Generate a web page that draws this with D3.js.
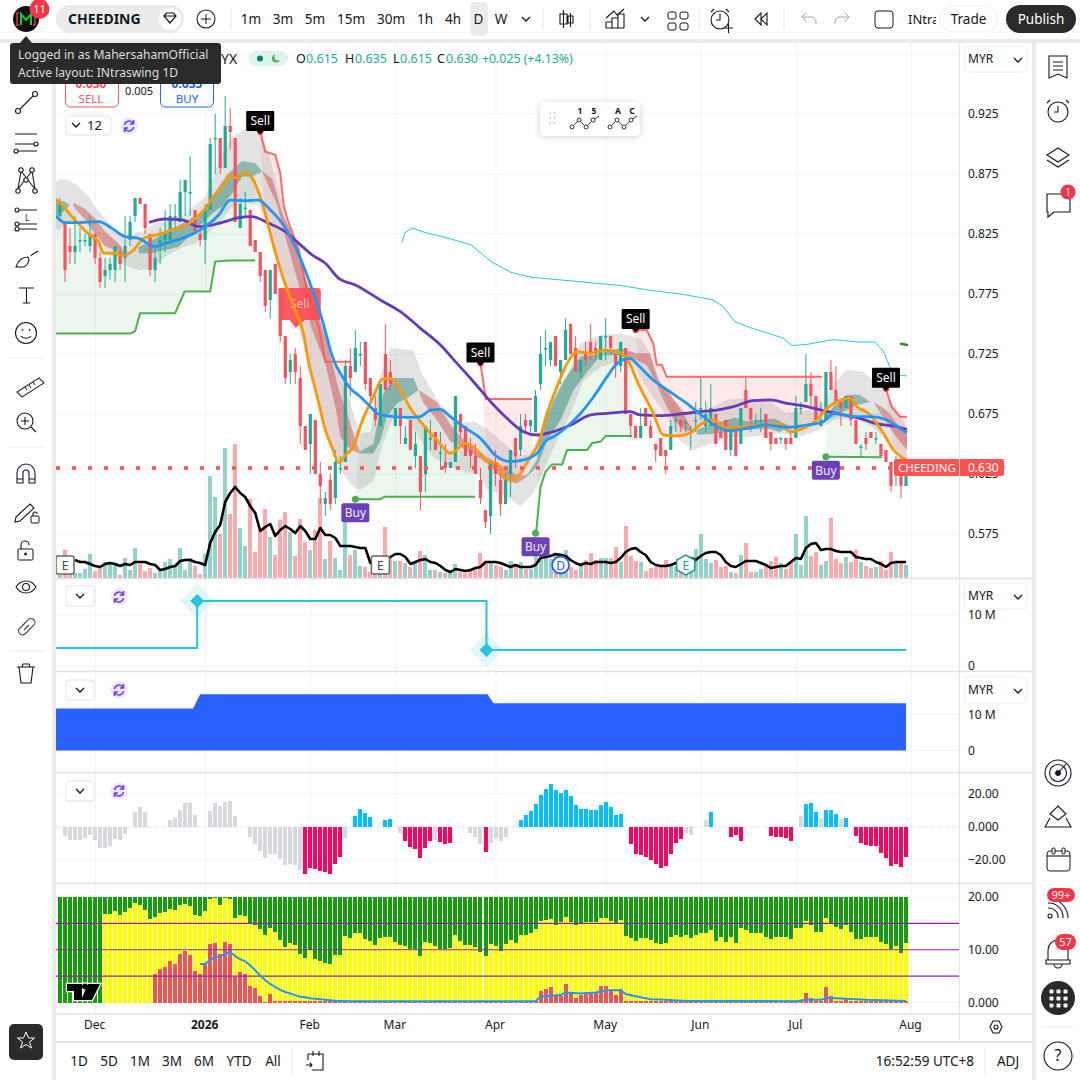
<!DOCTYPE html>
<html lang="en">
<head>
<meta charset="UTF-8">
<title>CHEEDING 1D</title>
<style>
  html, body { margin: 0; padding: 0; background: #fff; }
  svg { display: block; font-family: "Noto Sans", "Open Sans", sans-serif; }
  .axis text { font-family: "Noto Sans", sans-serif; font-size: 12px; fill: #131722; }
  .axis path, .axis line { display: none; }
</style>
</head>
<body>
<div id="chart"></div>
<script src="https://cdn.jsdelivr.net/npm/d3@7"></script>
<script>
// candles, one per trading day
const opens = [.84,.835,.815,.81,.82,.82,.815,.825,.805,.79, .795,.795,.81,.805,.82,.84,.855,.85,.825,.795,
  .815,.82,.82,.84,.835,.86,.86,.845,.825,.82, .845,.905,.905,.88,.915,.905,.83,.847,.845,.82,
  .81,.795,.77,.80,.78,.74,.71,.725,.705,.665, .65,.67,.625,.60,.62,.605,.63,.635,.715,.71,
  .725,.735,.705,.68,.665,.725,.71,.665,.68,.65, .67,.64,.64,.625,.655,.66,.643,.635,.63,.635,
  .675,.665,.645,.64,.62,.595,.59,.635,.62,.60, .625,.655,.645,.67,.665,.66,.70,.73,.72,.74,
  .71,.72,.75,.73,.71,.725,.735,.73,.72,.74, .74,.725,.715,.73,.675,.665,.655,.68,.665,.65,
  .655,.645,.645,.67,.67,.668,.66,.67,.68,.665, .665,.675,.66,.67,.645,.665,.65,.695,.68,.67,
  .67,.675,.66,.655,.655,.655,.655,.655,.68,.685, .70,.69,.665,.67,.71,.695,.685,.68,.69,.67,
  .648,.655,.66,.655,.65,.645,.635,.625,.635,.615];
const highs = [.855,.835,.83,.84,.83,.825,.84,.825,.81,.805, .805,.815,.815,.84,.84,.855,.855,.85,.825,.815,
  .83,.845,.85,.85,.87,.87,.89,.845,.83,.85, .905,.925,.905,.94,.93,.905,.855,.86,.845,.82,
  .81,.795,.795,.80,.78,.74,.725,.73,.715,.665, .675,.67,.635,.61,.625,.645,.64,.72,.73,.745,
  .735,.735,.705,.69,.70,.75,.72,.68,.68,.665, .67,.66,.64,.665,.67,.66,.66,.65,.635,.69,
  .675,.665,.655,.65,.63,.595,.635,.645,.63,.625, .645,.655,.675,.675,.67,.695,.74,.745,.735,.74,
  .72,.755,.75,.74,.72,.735,.75,.735,.74,.755, .74,.725,.735,.73,.675,.665,.68,.68,.67,.65,
  .655,.645,.67,.675,.67,.67,.665,.685,.705,.685, .70,.675,.665,.67,.66,.665,.68,.705,.68,.675,
  .68,.675,.66,.655,.656,.655,.66,.69,.685,.725, .71,.69,.685,.71,.72,.715,.685,.69,.69,.67,
  .65,.66,.66,.66,.65,.645,.635,.64,.64,.635];
const lows = [.835,.785,.80,.80,.81,.815,.81,.80,.78,.78, .787,.785,.795,.785,.815,.835,.85,.825,.79,.785,
  .80,.81,.82,.83,.835,.84,.84,.825,.815,.80, .845,.875,.875,.88,.895,.835,.83,.84,.815,.81,
  .785,.76,.755,.775,.735,.70,.70,.70,.65,.645, .625,.625,.60,.59,.595,.60,.625,.635,.69,.71,
  .715,.695,.68,.665,.665,.695,.695,.665,.65,.65, .645,.63,.595,.61,.645,.645,.63,.626,.63,.635,
  .655,.64,.63,.625,.60,.58,.575,.615,.59,.60, .606,.63,.64,.66,.66,.66,.695,.715,.715,.715,
  .70,.72,.725,.71,.705,.715,.72,.72,.72,.72, .725,.705,.71,.675,.655,.655,.655,.665,.655,.635,
  .64,.625,.645,.66,.66,.66,.645,.66,.67,.66, .665,.65,.655,.645,.64,.64,.65,.68,.66,.665,
  .66,.655,.645,.65,.65,.645,.65,.655,.675,.685, .68,.67,.665,.67,.695,.685,.665,.68,.665,.65,
  .64,.645,.655,.65,.64,.635,.61,.615,.605,.615];
const closes = [.85,.795,.81,.815,.82,.82,.825,.805,.785,.795, .80,.815,.80,.815,.835,.855,.85,.83,.795,.805,
  .82,.825,.84,.84,.86,.87,.86,.825,.82,.845, .90,.905,.88,.915,.91,.835,.85,.847,.815,.81,
  .79,.765,.795,.775,.74,.705,.72,.71,.665,.645, .675,.625,.615,.605,.60,.635,.63,.715,.705,.73,
  .725,.70,.69,.67,.70,.695,.70,.68,.665,.655, .645,.65,.61,.665,.655,.645,.643,.63,.635,.69,
  .66,.64,.64,.625,.605,.585,.635,.625,.60,.62, .645,.64,.665,.665,.67,.69,.725,.73,.735,.715,
  .72,.745,.725,.71,.72,.72,.725,.725,.74,.74, .73,.715,.735,.675,.665,.655,.665,.665,.655,.645,
  .64,.64,.665,.67,.665,.668,.66,.67,.68,.675, .68,.65,.655,.645,.66,.64,.68,.68,.67,.67,
  .67,.655,.65,.65,.655,.65,.65,.68,.68,.70, .69,.67,.67,.71,.695,.685,.68,.69,.67,.65,
  .648,.65,.655,.655,.64,.635,.615,.635,.615,.63];

// volume in millions, black line is its average
const volumes = [.3,2.8,1,.5,.5,.9,2.4,.7,1,1.6, 1.6,1.3,.3,2,.8,3,1.4,.7,1,.5,
  .8,1.6,1.9,1.2,3,.8,2,1.2,.4,2.4, 10.2,8.1,4.4,13,6.4,13.4,5,3.2,7.9,2.6,
  4.8,6.9,4.1,2.3,5.8,6.6,4.6,2.2,5.9,3.6, 2.8,4.8,8,1.9,3.7,2,.8,6.5,2.3,2.8,
  1.2,1.1,.6,.5,.6,5.1,2.1,1.7,1.7,1.5, 1.1,1.6,2.7,2.3,.8,.8,.6,.5,.7,1.4,
  .6,.5,.9,.8,2.5,1.6,1.7,1.3,1.1,.8, 1.7,1.1,1.6,.9,.9,2.5,3.1,2,1.9,2.3,
  2.5,2.8,1.1,.8,1.5,1.8,2.5,1.8,2,2, 2,3.1,1.6,5.2,2.2,1.7,1.6,.7,1,1.1,
  1.1,1.8,1.3,1.2,.8,.7,.7,2.9,4.4,1.9, 1.5,1.8,1.1,1.2,.6,.5,2.3,3.5,.6,.6,
  .9,1.4,1.7,2.1,1.5,.9,1.7,4.4,1.3,6.2, 2.2,2.6,1.3,1.7,6,1.9,1.5,2.1,1.6,2.8,
  1.6,1.2,1,1.1,1.7,.8,2.6,1.6,1.5,1.3];
const volumeAvg = [null,null,null,1.8,1.6,1.6,1.4,1.2,1.1,1.4, 1.5,1.4,1.2,1.4,1.3,1.6,1.6,1.6,1.4,1.3,
  .8,.9,1.1,1.2,1.7,1.8,1.8,1.6,1.5,1.3, 3.5,4.6,5.3,7.6,8.5,9.1,8.5,8.1,7.2,6.5,
  4.7,5.1,5.4,4.2,4.8,5.2,4.9,4.5,5.2,4.7, 3.9,3.9,5,4.3,4.3,4,3.2,3.2,3.2,3.1,
  3,3,1.5,1.5,1.9,2,2.1,2.4,2.4,2.1, 1.4,1.6,1.8,1.9,1.6,1.5,1.2,.8,.6,.9,
  .8,.7,.8,1,1.1,1.6,1.6,1.6,1.5,1.3, 1.1,1.3,1.1,1.1,1.1,1.3,2,2.1,2.2,2.4,
  2.3,2.2,1.8,1.5,1.3,1.5,1.4,1.6,1.6,1.6, 1.5,1.6,2,2.6,2.9,3,2.6,2.3,1.6,1.3,
  1.2,1.2,1.3,1.5,1.5,1.8,2,1.8,2.2,2.5, 2.6,2.6,2.3,1.6,1.2,1.1,1.4,1.7,1.7,1.7,
  1.5,1.3,1,1.1,1.2,1.2,1.6,2,1.9,3, 3.4,3.5,2.8,2.9,2.9,2.7,2.6,2.6,2.6,2.1,
  2,1.9,1.9,1.6,1.4,1.1,1.5,1.6,1.6,1.6];

// moving averages as [bar, price] read at the bends
const orangeLine = [[-.8,.854],[0,.851],[2.7,.838],[5.7,.825],[7.7,.8186],[8.7,.809],[10.7,.809],[12.7,.807],[14.7,.8117],[16.7,.8214],[18.7,.8236],[20.7,.826],[22.7,.829],[24.7,.831],[26.7,.837],[28.7,.8444],[30.7,.8567],[32.7,.8658],[33.7,.874],[35.2,.872],[37.2,.877],[38.7,.8694],[40.7,.8464],[42.7,.8144],[44.7,.7867],[46.7,.7644],[48.7,.7408],[49.7,.7172],[50.7,.7006],[51.7,.6839],[53,.6617],[54.3,.6478],[55.7,.6344],[57,.6408],[58.6,.6478],[60.3,.6686],[62.6,.6894],[64.3,.7039],[66,.7047],[68,.695],[70,.6797],[72.6,.6658],[75.3,.6533],[78,.6422],[81,.6506],[83.3,.645],[85.3,.6353],[87.3,.6339],[88.6,.6228],[90.3,.62],[92,.6256],[94,.6394],[95.6,.6506],[97.3,.6756],[99.3,.6978],[101.3,.7172],[103.3,.7269],[106,.7256],[108.6,.7283],[111.3,.7269],[113,.7228],[115.8,.6978],[118.5,.6756],[120.5,.6575],[123.2,.6567],[125.8,.6589],[127.8,.6658],[130.5,.67],[133.2,.663],[136.5,.6644],[139.8,.665],[143.8,.6667],[145.8,.6603],[148.5,.663],[151.2,.67],[153.2,.6797],[155.2,.6853],[157.8,.6881],[159.2,.6811],[161.5,.6756],[164.5,.6589],[166.5,.645],[169.2,.6367]];
const blueLine = [[-.8,.84],[1,.8344],[3,.8344],[7.7,.8353],[10.4,.8297],[13,.8228],[15.7,.8214],[19,.8144],[21,.8172],[24.4,.8214],[27,.8261],[29,.8311],[31.7,.8408],[34,.8533],[37,.8528],[39.7,.8533],[41.7,.8464],[44.4,.8339],[47,.8144],[49.7,.7867],[52.4,.7533],[54.4,.7228],[56.4,.7061],[58,.6964],[60,.6894],[62,.6811],[63.6,.675],[66.6,.6728],[70,.6722],[72,.6728],[74,.6783],[76,.6789],[78,.6728],[80.6,.6644],[84,.6547],[87.3,.6394],[90,.6353],[92.6,.6367],[95.3,.6422],[97.3,.6533],[98.6,.6561],[101.3,.6644],[104,.6756],[106.6,.6894],[109.3,.7061],[111.3,.7172],[113.8,.7214],[115.8,.7144],[118.5,.7033],[121.8,.6936],[125.2,.6839],[128.5,.6728],[131.2,.6644],[133.8,.6611],[137.2,.663],[141.2,.6658],[145.2,.6639],[149.2,.6658],[152.5,.6686],[154.5,.6756],[158.5,.6728],[161.8,.6728],[165.2,.67],[167.8,.663],[169.2,.6594]];
const purpleLine = [[17.8,.8347],[21,.8375],[24.4,.8367],[27.7,.8311],[30.4,.8325],[33,.8353],[35.7,.8386],[38.4,.8394],[41.7,.8339],[45,.8269],[47.7,.8172],[50.4,.8075],[53,.8006],[55.7,.788],[59,.7825],[64,.77],[68,.7603],[72,.7464],[76,.7325],[79.3,.7172],[82.6,.7019],[86,.6853],[89.3,.6714],[92.6,.6603],[95.3,.6575],[98.6,.6603],[102,.6658],[106,.6742],[109.3,.6756],[114,.677],[115.8,.6742],[119.8,.6736],[123.8,.675],[127.8,.6769],[131.2,.6783],[134.5,.6811],[138.5,.6861],[141.8,.6867],[145.2,.6839],[149.2,.6811],[152.5,.6778],[156.5,.6742],[159.8,.6714],[163.2,.6667],[166.5,.665],[169.2,.6622]];
const cyanLine = [[68.3,.8175],[68.9,.826],[70.3,.83],[73.1,.826],[77.1,.822],[82.1,.816],[86.1,.802],[90.1,.793],[94,.789],[102,.786],[112,.782],[118,.778],[124,.775],[128,.772],[130.5,.77],[132.5,.7644],[134.8,.752],[138.5,.746],[142.5,.741],[144.5,.738],[146.2,.732],[149.2,.733],[154.5,.737],[159.2,.735],[162.8,.735],[164.5,.727],[165.8,.714],[167.2,.7075],[169.2,.7067]];
const greenDash = [[168,.7335],[169.2,.7325]];

// grey envelope
const greyUpper = [[-.8,.868],[-.3,.87],[1,.871],[3,.867],[5.7,.856],[7.7,.844],[10.4,.831],[13,.82],[15,.826],[17,.828],[19,.834],[23.7,.837],[29,.856],[31,.878],[33,.898],[35,.9075],[37.7,.914],[40,.912],[41.7,.892],[43,.873],[45,.839],[47,.814],[49,.789],[50,.78],[52,.76],[54,.735],[56,.705],[58,.684],[59,.67],[60,.659],[62,.66],[64,.706],[66,.73],[70.6,.728],[72.3,.709],[75.3,.687],[79.3,.667],[82.6,.669],[85.3,.663],[88.6,.651],[91.3,.641],[94,.641],[96,.662],[98.6,.684],[101.3,.706],[104,.734],[108,.741],[112,.742],[116,.738],[117.8,.726],[119.8,.703],[121.2,.692],[125.2,.676],[129.2,.678],[133.2,.687],[137.2,.688],[141.2,.687],[145.2,.676],[149.2,.678],[152.5,.684],[154.5,.7],[157.2,.712],[160.5,.71],[163.8,.698],[166.5,.684],[169.2,.664]];
const greyLower = [[-.8,.83],[-.3,.827],[1,.834],[3.7,.834],[5.7,.826],[8.4,.809],[11,.806],[13,.799],[15.7,.795],[18.4,.796],[21,.806],[24.4,.814],[27,.817],[29.7,.826],[32.4,.837],[35,.8506],[37,.8506],[39.7,.849],[41.7,.826],[44.4,.789],[47,.756],[49.7,.717],[52.4,.673],[54.4,.645],[56.4,.626],[58.6,.614],[60,.612],[62.6,.619],[64.3,.648],[66,.667],[68,.676],[70,.667],[72,.653],[74.6,.639],[78,.631],[81.3,.626],[83.3,.626],[85.3,.612],[88.6,.6075],[92,.598],[94.6,.609],[96.6,.628],[99.3,.653],[102,.6756],[104.6,.703],[108,.714],[112,.72],[115.2,.71],[118.5,.689],[121.2,.673],[123.8,.653],[126.5,.645],[130.5,.651],[133.8,.656],[138.5,.656],[143.8,.659],[147.8,.656],[151.8,.662],[154.5,.67],[158.5,.673],[162.5,.664],[165.2,.653],[169.2,.634]];

// ribbon pieces, [top, bottom]
const tealBands = [
  [[[-.8,.853],[1,.852],[2,.849]], [[-.8,.84],[1,.845],[2,.849]]],
  [[[15.7,.814],[19,.821],[21.7,.828],[25,.835],[27.7,.842],[29.7,.8506],[31.7,.8644],[33.7,.8756],[36.4,.8858],[39,.884],[40.4,.877]],
   [[15.7,.809],[18.4,.809],[21,.8117],[23.7,.8144],[26.4,.8256],[28.4,.834],[30.4,.842],[32.4,.848],[34.4,.859],[36.4,.873],[38.4,.8728],[40.4,.877]]],
  [[[60,.644],[62.6,.65],[64.6,.692],[66.6,.705],[70.6,.705],[71.6,.695]],
   [[60,.642],[62.6,.642],[64,.653],[65.3,.673],[67.3,.684],[69.3,.688],[71.6,.695]]],
  [[[93.3,.624],[95.3,.637],[96,.659],[98.6,.687],[100.6,.703],[104,.723],[106.6,.724],[109.3,.727],[112,.73],[113.3,.728]],
   [[93.3,.623],[95.3,.631],[97.3,.653],[100,.67],[102.6,.695],[105.3,.71],[108,.724],[111.3,.724],[113.3,.728]]],
  [[[127.2,.662],[130.5,.667],[133.2,.67],[134.8,.672],[137.2,.669],[141.2,.6706],[142.8,.671],[145.8,.665]],
   [[127.2,.658],[128.5,.658],[131.8,.659],[134.5,.661],[138.5,.662],[141.2,.663],[143.8,.66],[145.8,.665]]],
  [[[151.8,.666],[154.5,.681],[157.2,.691],[159.8,.691],[161.8,.685]],
   [[151.8,.666],[154.5,.673],[156.5,.677],[159.2,.6825],[161.8,.685]]]
];
const roseBands = [
  [[[2.7,.851],[5,.846],[7,.838],[9,.827],[11.7,.817],[13.2,.807]], [[2.7,.848],[5,.837],[7,.825],[9,.815],[11.7,.81],[13.2,.807]]],
  [[[40.4,.877],[42.4,.871],[44.4,.842],[47,.82],[49,.789],[51,.765],[53,.74],[55.7,.695],[57.3,.676],[58.6,.659],[60,.642]],
   [[40.4,.877],[43.4,.849],[45.7,.812],[48,.778],[50.4,.745],[53,.717],[55.3,.675],[56,.656],[58,.645],[60,.642]]],
  [[[71.6,.695],[75.3,.685],[78,.666],[80,.656],[82.6,.648],[85.3,.639],[88.6,.631],[91.3,.624],[93.3,.624]],
   [[71.6,.695],[72.6,.684],[75.3,.67],[78,.652],[80,.648],[82.6,.641],[85.3,.634],[88.6,.62],[91.3,.617],[93.3,.623]]],
  [[[113.3,.728],[115.2,.7256],[117.8,.7256],[119.5,.703],[121.8,.692],[124.5,.6756],[126.5,.66]],
   [[113.3,.722],[114.5,.721],[117.2,.716],[119.2,.7],[120.5,.687],[122.5,.671],[124.5,.662],[126.5,.66]]],
  [[[162.5,.685],[165.2,.678],[167.2,.667],[169.2,.659]], [[162.5,.685],[165.2,.667],[167.2,.655],[169.2,.645]]]
];

// trailing stop steps
const greenSteps = [
  [[-.8,.742],[14,.742],[15,.744],[16,.759],[23,.759],[24.9,.777],[30,.777],[31,.802],[33.7,.803],[39,.803]],
  [[58.9,.604],[63.9,.604],[64.9,.606],[82.9,.606]],
  [[95.1,.5756],[96,.6144],[97,.627],[98.3,.633],[100.3,.633],[101.3,.645],[105.3,.645],[106.3,.6506],[108,.652],[109,.6567],[114.3,.6567]],
  [[153,.6394],[164.2,.639]]
];
const redSteps = [
  [[40,.91],[41,.8936],[43,.891],[44,.8756],[44.7,.848],[45.7,.834],[47.7,.812],[49.7,.77],[51.7,.748],[53,.7186],[58,.7186]],
  [[84,.717],[85.1,.6875],[94.3,.6875]],
  [[115,.745],[117.2,.745],[118.5,.734],[119.2,.716],[120.2,.716],[121.2,.706],[152.2,.706]],
  [[165,.696],[166.1,.681],[167.8,.6728],[169.2,.6728]]
];
const sellBars = [40, 84, 115, 165];
const sellPrices = [.91, .717, .745, .696];
const buyBars = [59, 95, 153];
const buyPrices = [.604, .5756, .6394];

// pane 2 and pane 3
const stepLine = [[-.8,3.53],[27.4,3.53],[27.4,12.75],[85.2,12.75],[85.2,3.14],[169,3.14]];
const stepMarks = [[27.4,12.75],[85.2,3.14]];
const blueArea = [[-.8,11.7],[26.6,11.7],[28,15.6],[85.4,15.6],[86.6,13.1],[169,13.1]];

// pane 4 histogram
const histogram = [0,-5.7,-8.1,-8.1,-7.7,-6.9,-5,-8.1,-12.7,-12.7, -11.7,-7,-7.7,-4,0,8.9,11.9,8.9,0,0,
  0,0,4,5.2,10.1,14.3,14.3,7,0,0, 9.5,14.3,12.5,14.9,15.5,6.5,0,0,-6.3,-10.5,
  -14.7,-19,-16.6,-16.6,-19.6,-23.2,-22.6,-23.2,-26.3,-28.7, -25,-25.7,-26.9,-27.5,-28.7,-22.6,-18.4,-6.9,0,6.5,
  10.7,8.3,5.9,0,0,4,4.6,0,-3.6,-8.7, -12.1,-13.5,-19,-12.9,-8.7,-8.1,-9.3,-10.5,-9.9,0,
  0,0,-3.8,-6.3,-10.5,-15.4,-9.9,-7.5,-8.7,-6.3, 0,0,4,7,9.5,13.7,19.2,22.8,25.9,22.2,
  20.4,22.2,18.6,13.1,10.7,10.7,10.1,10.1,13.1,14.9, 11.9,7,7.7,0,-10.5,-16.6,-17.2,-18.4,-20.2,-22.6,
  -25,-23.8,-16.6,-9.9,-7.5,-3.8,-5,0,0,4, 8.9,0,0,0,-6.3,-5,-8.3,0,0,0,
  0,0,-5.7,-6.3,-6.3,-6.9,-8.7,0,6.5,13.7, 14.3,8.9,5.3,10.1,10.1,7.7,4.6,5.3,0,-5.7,
  -9.9,-11.1,-11.7,-11.7,-16,-19,-23.8,-22.6,-24.4,-18.4];
const histBlueRanges = [[59,62],[65,66],[92,112],[130,130],[149,151],[153,155],[157,157]];
const histPinkRanges = [[49,56],[69,74],[76,78],[85,85],[114,124],[134,136],[142,146],[159,169]];

// pane 5 stacked columns
const yellowTops = [0,0,0,0,0,0,0,0,0,16.7, 16.8,17.4,16.6,17.2,18,18.9,18.5,17.6,15.9,16.3,
  17,17.2,17.8,17.6,18.5,18.7,18.3,16.6,16.4,17.4, 19.6,19.8,18.5,19.8,19.6,16,16.6,16.4,14.9,14.7,
  14,12.8,14.2,13.3,11.9,10.5,11.3,10.9,9.2,8.5, 9.9,8.2,7.9,7.5,7.3,9,9,12.6,12.2,13.2,
  13.2,12,11.7,10.9,12.2,12.4,12.4,11.5,10.9,10.7, 10.1,10.1,8.8,11.5,11.3,10.7,10.1,10.1,10.3,12.8,
  11.7,10.9,10.9,10.5,9.6,8.8,11.1,10.7,9.8,11.1, 11.8,11.3,12.8,12.8,13.2,14,15.4,15.6,15.8,14.7,
  15.3,16.3,15.3,14.7,14.9,15.3,15.3,15.3,16,16, 15.5,14.9,15.7,12.6,12.2,11.7,12.2,12.2,11.9,11.3,
  11.1,11.3,12.4,12.8,12.4,12.8,12.2,12.8,13.2,13.2, 13.7,11.7,12.4,11.5,12.4,11.3,14.2,13.7,13.2,13.2,
  13.2,12.4,12,12.4,12.4,12.4,12,14.2,14.2,15.4, 14.7,13.3,13.3,16,14.9,14.3,14,14.7,13.3,12,
  12,12.4,12.4,12.4,11.5,11.1,10.1,10.7,9.4,11.3];
const redTops = [0,0,0,0,0,0,0,0,0,0, 0,0,0,0,0,0,0,0,0,5.4,
  6.4,6.8,7.9,7.3,9.2,9.8,9,6,5.4,7.3, 11.1,11.3,9.2,11.5,11.1,4.8,5.8,5.4,3.1,2.8,
  1.3,.1,1.6,.2,.2,.2,.2,.2,.2,.2, .2,.2,.2,.2,.2,.2,.2,.2,.2,.2,
  .2,.2,.2,.2,.2,.2,.2,.2,.2,.2, .2,.2,.2,.2,.2,.2,.2,.2,.2,.2,
  .2,.2,.2,.2,.2,.2,.2,.2,.2,.2, .2,.2,.2,.2,.2,.2,2.2,2.6,3,1.3,
  1.3,3.5,1.8,.9,1.4,2,2,2,3.1,3.1, 2.2,1.4,2.6,.2,.2,.2,.2,.2,.2,.2,
  .2,.2,.2,.2,.2,.2,.2,.2,.2,.2, .2,.2,.2,.2,.2,.2,.2,.2,.2,.2,
  .2,.2,.2,.2,.2,.2,.2,.2,.2,1.8, .9,.2,.2,3,1.3,.3,.2,.7,.2,.2,
  .2,.2,.2,.2,.2,.2,.2,.2,.2,.2];
const stochLine = [[28,7.3],[29,7.3],[30,8.1],[31,8.6],[32,8.8],[33,9.2],[34,9.6],[35,8.8],[36,8.2],[37,7.8],[38,7],[39,6.1],[40,5.1],[41,4.2],[42,3.5],[43,2.9],[44,2.4],[45,2],[46,1.7],[47,1.4],[48,1.1],[49,1],[50,.8],[51,.7],[52,.6],[53,.5],[55,.35],[58,.25],[95,.25],[96,1.1],[98,1.3],[100,1.4],[101,1.9],[104,1.7],[107,1.9],[109,2.3],[112,2.3],[113,1.6],[116,1],[118,.6],[121,.5],[125,.3],[147,.25],[149,.5],[152,.5],[153,.9],[157,.7],[161,.5],[169,.3]];

// axes
const dateBars = [7, 29, 50, 67, 87, 109, 128, 147, 170];
const dateLabels = ['Dec', '2026', 'Feb', 'Mar', 'Apr', 'May', 'Jun', 'Jul', 'Aug'];
const priceTicks = [.925, .875, .825, .775, .725, .675, .625, .575];
const lastPrice = .63;

const svg = d3.select('#chart').append('svg').attr('width', 1080).attr('height', 1080);

const x = d3.scaleLinear().domain([0, 169]).range([60, 906]);
const yPrice = d3.scaleLinear().domain([.575, .925]).range([534, 114]);
const yVol = d3.scaleLinear().domain([0, 14]).range([578, 438]);
const yStep = d3.scaleLinear().domain([0, 10]).range([666, 615]);
const yBlue = d3.scaleLinear().domain([0, 10]).range([750.5, 714.5]);
const yHist = d3.scaleLinear().domain([-20, 20]).range([860, 794]);
const yStack = d3.scaleLinear().domain([0, 20]).range([1002.5, 897]);

const GRID = '#f0f3fa', SEP = '#e0e3eb', INK = '#131722', GAP = '#ebebeb';
const UP = '#22ab94', DOWN = '#f7525f';

const defs = svg.append('defs');
defs.append('clipPath').attr('id', 'main').append('rect').attr('x', 56).attr('y', 43).attr('width', 903).attr('height', 535);
defs.append('clipPath').attr('id', 'inra').append('rect').attr('x', 895).attr('y', 0).attr('width', 41).attr('height', 38);

// grid lines
const grid = svg.append('g');
grid.selectAll('.v').data(dateBars).enter().append('line')
  .attr('x1', d => x(d) + .5).attr('x2', d => x(d) + .5).attr('y1', 43).attr('y2', 1014)
  .attr('stroke', GRID);
const hLines = priceTicks.map(d => yPrice(d)).concat([54, yStep(10), yStep(0), yBlue(10), yBlue(0), 794, 827, 860, 898, 1002.5]);
grid.selectAll('.h').data(hLines).enter().append('line')
  .attr('x1', 56).attr('x2', 959).attr('y1', d => d).attr('y2', d => d).attr('stroke', GRID);

const lineXY = d3.line().x(d => x(d[0])).y(d => yPrice(d[1]));
const lineSmooth = d3.line().x(d => x(d[0])).y(d => yPrice(d[1])).curve(d3.curveMonotoneX);
const polygon = (top, bottom) => lineXY(top.concat(bottom.slice().reverse())) + 'Z';
const orangeBetween = (a, b) => orangeLine.filter(d => d[0] >= a && d[0] <= b);

const main = svg.append('g').attr('clip-path', 'url(#main)');

// volume
main.append('g').attr('shape-rendering', 'crispEdges').selectAll('rect').data(volumes).enter().append('rect')
  .attr('x', (d, i) => Math.round(x(i) - 2)).attr('width', 4)
  .attr('y', d => yVol(d)).attr('height', d => yVol(0) - yVol(d))
  .attr('fill', (d, i) => closes[i] >= opens[i] ? '#92d2c9' : '#fba9ac');

// fills behind the trailing stops
function stepFill(steps, color) {
  main.append('g').selectAll('path').data(steps).enter().append('path')
    .attr('d', s => {
      const a = s[0][0], b = s[s.length - 1][0];
      return polygon(orangeBetween(a, b).length ? [[a, s[0][1]]].concat(s.slice(1)) : s,
        [[a, s[0][1]]].concat(orangeBetween(a, b)).concat([[b, orangeBetween(a, b).slice(-1)[0][1]]]));
    })
    .attr('fill', color);
}
stepFill(greenSteps, 'rgba(76,175,80,.11)');
stepFill(redSteps, 'rgba(255,82,82,.13)');

// grey envelope and ribbon
main.append('path').attr('d', polygon(greyUpper, greyLower)).attr('fill', 'rgba(150,150,150,.27)');
main.append('g').selectAll('path').data(tealBands).enter().append('path')
  .attr('d', d => polygon(d[0], d[1])).attr('fill', 'rgba(34,130,118,.45)');
main.append('g').selectAll('path').data(roseBands).enter().append('path')
  .attr('d', d => polygon(d[0], d[1])).attr('fill', 'rgba(195,60,60,.42)');

// candles
const candles = main.append('g');
candles.selectAll('line').data(closes).enter().append('line')
  .attr('x1', (d, i) => x(i)).attr('x2', (d, i) => x(i))
  .attr('y1', (d, i) => yPrice(highs[i])).attr('y2', (d, i) => yPrice(lows[i]))
  .attr('stroke', (d, i) => d >= opens[i] ? UP : DOWN).attr('stroke-width', 1);
candles.selectAll('rect').data(closes).enter().append('rect')
  .attr('x', (d, i) => x(i) - 1.6).attr('width', 3.2)
  .attr('y', (d, i) => yPrice(Math.max(d, opens[i])))
  .attr('height', (d, i) => Math.max(1.5, Math.abs(yPrice(d) - yPrice(opens[i]))))
  .attr('fill', (d, i) => d >= opens[i] ? UP : DOWN);

// big sell flag
const flagBar = 47.9, flagPrice = .7467;
const flagX = x(flagBar), flagY = yPrice(flagPrice);
main.append('path')
  .attr('d', `M${flagX - 21},${flagY - 37}q0,-3 3,-3h36q3,0 3,3v26q0,3 -3,3h-13l-9,8l-6,-8h-8l-3,-1z`)
  .attr('fill', 'rgba(250,78,84,.93)');
main.append('text').attr('x', flagX).attr('y', flagY - 20).attr('text-anchor', 'middle')
  .attr('font-size', 12).attr('fill', 'rgba(255,255,255,.6)').text('Sell');

// stops and moving averages
main.append('g').selectAll('path').data(greenSteps).enter().append('path')
  .attr('d', lineXY).attr('fill', 'none').attr('stroke', '#4caf50').attr('stroke-width', 2);
main.append('g').selectAll('path').data(redSteps).enter().append('path')
  .attr('d', lineXY).attr('fill', 'none').attr('stroke', '#ff5252').attr('stroke-width', 2).attr('opacity', .85);
main.append('path').attr('d', lineXY(cyanLine)).attr('fill', 'none').attr('stroke', '#26c6da').attr('stroke-width', 1);
main.append('path').attr('d', lineXY(greenDash)).attr('fill', 'none').attr('stroke', '#2e8b3a').attr('stroke-width', 2.5).attr('stroke-linecap', 'round');
[[purpleLine, '#673ab7'], [orangeLine, '#ff9800'], [blueLine, '#2196f3']].forEach(([pts, c]) => {
  main.append('path').attr('d', lineSmooth(pts)).attr('fill', 'none').attr('stroke', c).attr('stroke-width', 2.8);
});
const volLine = d3.line().defined(d => d !== null).x((d, i) => x(i)).y(d => yVol(d));
main.append('path').attr('d', volLine(volumeAvg)).attr('fill', 'none').attr('stroke', '#000').attr('stroke-width', 2.6).attr('stroke-linejoin', 'round');

// last price dotted line
main.append('line').attr('x1', 56).attr('x2', 895).attr('y1', yPrice(lastPrice)).attr('y2', yPrice(lastPrice))
  .attr('stroke', '#ff5252').attr('stroke-width', 3.5).attr('stroke-dasharray', '4 12');

// signal labels
sellBars.forEach((b, i) => {
  const px = x(b), py = yPrice(sellPrices[i]);
  main.append('circle').attr('cx', px).attr('cy', py).attr('r', 3.2).attr('fill', '#ff5252');
  main.append('path').attr('d', `M${px - 13},${py - 20}h26v18h-10l-3,3l-3,-3h-10z`).attr('fill', '#000').attr('stroke', '#000').attr('stroke-linejoin', 'round').attr('stroke-width', 2);
  main.append('text').attr('x', px).attr('y', py - 7).attr('text-anchor', 'middle').attr('font-size', 12).attr('fill', '#fff').text('Sell');
});
buyBars.forEach((b, i) => {
  const px = x(b), py = yPrice(buyPrices[i]);
  main.append('circle').attr('cx', px).attr('cy', py).attr('r', 3.5).attr('fill', '#4caf50');
  main.append('rect').attr('x', px - 14).attr('y', py + 4).attr('width', 28).attr('height', 19).attr('rx', 2).attr('fill', '#673ab7').attr('opacity', .97);
  main.append('text').attr('x', px).attr('y', py + 18).attr('text-anchor', 'middle').attr('font-size', 12).attr('fill', '#eee').text('Buy');
});

// earnings and dividend flags
[1, 64].forEach(b => {
  main.append('rect').attr('x', x(b) - 9).attr('y', 556).attr('width', 18).attr('height', 18).attr('rx', 2).attr('fill', '#fff').attr('stroke', '#666').attr('stroke-width', 1.5);
  main.append('text').attr('x', x(b)).attr('y', 570).attr('text-anchor', 'middle').attr('font-size', 12).attr('fill', '#444').text('E');
});
main.append('path').attr('d', `M${x(125)},555l9,5v10l-9,5l-9,-5v-10z`).attr('fill', '#fff').attr('stroke', '#1f9e8c').attr('stroke-width', 1.5);
main.append('text').attr('x', x(125)).attr('y', 570).attr('text-anchor', 'middle').attr('font-size', 12).attr('fill', '#1f9e8c').text('E');
main.append('circle').attr('cx', x(100)).attr('cy', 565).attr('r', 8.5).attr('fill', '#fff').attr('stroke', '#2962ff').attr('stroke-width', 1.8);
main.append('text').attr('x', x(100)).attr('y', 569.5).attr('text-anchor', 'middle').attr('font-size', 12).attr('fill', '#2962ff').text('D');

// pane 2
const stepPath = d3.line().x(d => x(d[0])).y(d => yStep(d[1]));
svg.append('path').attr('d', stepPath(stepLine)).attr('fill', 'none').attr('stroke', '#26c6da').attr('stroke-width', 2);
stepMarks.forEach(d => {
  const px = x(d[0]), py = yStep(d[1]);
  svg.append('path').attr('d', `M${px},${py - 17}l17,17l-17,17l-17,-17z`).attr('fill', 'rgba(38,198,218,.15)');
  svg.append('path').attr('d', `M${px},${py - 7}l7,7l-7,7l-7,-7z`).attr('fill', '#26c6da');
});

// pane 3
const blueAreaPath = d3.area().x(d => x(d[0])).y0(yBlue(0)).y1(d => yBlue(d[1]));
svg.append('path').attr('d', blueAreaPath(blueArea)).attr('fill', '#2962ff');

// pane 4
const inRanges = (i, ranges) => ranges.some(r => i >= r[0] && i <= r[1]);
svg.append('line').attr('x1', 56).attr('x2', 959).attr('y1', yHist(0)).attr('y2', yHist(0)).attr('stroke', '#e6e8ee').attr('stroke-dasharray', '4 3');
svg.append('g').attr('shape-rendering', 'crispEdges').selectAll('rect').data(histogram).enter().append('rect')
  .attr('x', (d, i) => Math.round(x(i) - 2)).attr('width', 4)
  .attr('y', d => Math.min(yHist(d), yHist(0)))
  .attr('height', d => Math.abs(yHist(d) - yHist(0)))
  .attr('fill', (d, i) => inRanges(i, histBlueRanges) ? '#00bfff' : inRanges(i, histPinkRanges) ? '#ff0060' : '#d8d9de');

// pane 5
const stack = svg.append('g').attr('shape-rendering', 'crispEdges');
const bars5 = (data, color) => stack.append('g').selectAll('rect').data(data).enter().append('rect')
  .attr('x', (d, i) => Math.round(x(i) - 2)).attr('width', 4)
  .attr('y', d => yStack(d)).attr('height', d => yStack(0) - yStack(d)).attr('fill', color);
bars5(closes.map(() => 20), '#169c0b');
bars5(yellowTops, '#ffff00');
bars5(redTops, '#f0544f');
[15, 10, 5].forEach(v => {
  svg.append('line').attr('x1', 56).attr('x2', 959).attr('y1', yStack(v)).attr('y2', yStack(v)).attr('stroke', '#8e24aa').attr('stroke-width', 1.2);
});
svg.append('path').attr('d', d3.line().x(d => x(d[0])).y(d => yStack(d[1]))(stochLine)).attr('fill', 'none').attr('stroke', '#2196f3').attr('stroke-width', 2);

// tradingview mark
svg.append('path').attr('d', 'M67,984h15v16h-8v-9h-7z M88,984h12l-8,16h-11z M85,983.500a3,3 0 1 1 -.1,0z')
  .attr('fill', '#000').attr('stroke', '#fff').attr('stroke-width', 2.4).attr('paint-order', 'stroke');

// pane separators and scale border
[[0, 578.5], [0, 671.5], [0, 772.5], [0, 883.5], [0, 1014]].forEach(d => {
  svg.append('line').attr('x1', 56).attr('x2', 1032).attr('y1', d[1]).attr('y2', d[1]).attr('stroke', SEP).attr('stroke-width', 1.5);
});
svg.append('line').attr('x1', 959.5).attr('x2', 959.5).attr('y1', 43).attr('y2', 1040).attr('stroke', SEP);

// axes
const axisPrice = d3.axisRight(yPrice).tickValues(priceTicks).tickSize(0).tickPadding(0).tickFormat(d3.format('.3f'));
svg.append('g').attr('class', 'axis').attr('transform', 'translate(968,0)').call(axisPrice);
const axisStep = d3.axisRight(yStep).tickValues([10, 0]).tickSize(0).tickPadding(0).tickFormat(d => d ? d + ' M' : '0');
svg.append('g').attr('class', 'axis').attr('transform', 'translate(968,0)').call(axisStep);
const axisBlue = d3.axisRight(yBlue).tickValues([10, 0]).tickSize(0).tickPadding(0).tickFormat(d => d ? d + ' M' : '0');
svg.append('g').attr('class', 'axis').attr('transform', 'translate(968,0)').call(axisBlue);
const axisHist = d3.axisRight(yHist).tickValues([20, 0, -20]).tickSize(0).tickPadding(0).tickFormat(d => d === 0 ? '0.000' : d < 0 ? '\u2212' + (-d).toFixed(2) : d.toFixed(2));
svg.append('g').attr('class', 'axis').attr('transform', 'translate(968,0)').call(axisHist);
const axisStack = d3.axisRight(yStack).tickValues([20, 10, 0]).tickSize(0).tickPadding(0).tickFormat(d => d === 0 ? '0.000' : d.toFixed(2));
svg.append('g').attr('class', 'axis').attr('transform', 'translate(968,0)').call(axisStack);
const axisDate = d3.axisBottom(x).tickValues(dateBars).tickSize(0).tickPadding(0).tickFormat((d, i) => dateLabels[i]);
const dateG = svg.append('g').attr('class', 'axis').attr('transform', 'translate(-1,1020)').call(axisDate);
dateG.selectAll('text').style('font-weight', (d, i) => dateLabels[i] === '2026' ? 700 : 400);

// price tag
svg.append('rect').attr('x', 894).attr('y', yPrice(lastPrice) - 9).attr('width', 110).attr('height', 17).attr('rx', 2).attr('fill', '#ff5252');
svg.append('line').attr('x1', 959.5).attr('x2', 959.5).attr('y1', yPrice(lastPrice) - 9).attr('y2', yPrice(lastPrice) + 8).attr('stroke', 'rgba(255,255,255,.7)');
svg.append('text').attr('x', 898).attr('y', yPrice(lastPrice) + 4).attr('font-size', 11.5).attr('fill', '#fff').text('CHEEDING');
svg.append('text').attr('x', 968).attr('y', yPrice(lastPrice) + 4).attr('font-size', 12).attr('fill', '#fff').text(lastPrice.toFixed(3));

// ---- screen furniture ----
const txt = (px, py, s, o = {}) => svg.append('text').attr('x', px).attr('y', py)
  .attr('font-size', o.size || 13).attr('fill', o.fill || INK).attr('font-weight', o.weight || 400)
  .attr('text-anchor', o.anchor || 'start').text(s);
const icon = (d, o = {}) => svg.append('path').attr('d', d).attr('fill', o.fill || 'none')
  .attr('stroke', o.stroke || INK).attr('stroke-width', o.width || 1);
const ring = (cx, cy, r, o = {}) => svg.append('circle').attr('cx', cx).attr('cy', cy).attr('r', r)
  .attr('fill', o.fill || 'none').attr('stroke', o.stroke || INK).attr('stroke-width', o.width || 1);
const box = (px, py, w, h, r, fill, stroke) => svg.append('rect').attr('x', px).attr('y', py).attr('width', w).attr('height', h)
  .attr('rx', r).attr('fill', fill || 'none').attr('stroke', stroke || 'none');
const chevron = (cx, cy, c) => icon(`M${cx - 4},${cy - 2}l4,4l4,-4`, { stroke: c || INK, width: 1.3 });

// frame
box(0, 0, 1080, 39, 0, '#fff');
box(0, 39, 1080, 4, 0, GAP);
box(52, 39, 4, 1041, 0, GAP);
box(1032, 39, 4, 1041, 0, GAP);
box(0, 43, 52, 1037, 0, '#fff');
box(1036, 43, 44, 1037, 0, '#fff');
box(56, 1041, 976, 2, 0, SEP);

// legend row, hidden partly by the tooltip
txt(221, 64, 'YX', { size: 14 });
box(249, 51, 39, 15, 7.5, '#dff3ee');
ring(260, 58.5, 3, { fill: '#087f6f', stroke: 'none' });
ring(276, 58.5, 4, { fill: '#4caf50', stroke: 'none' });
ring(278, 57, 3.5, { fill: '#dff3ee', stroke: 'none' });
[['O', 296, '0.615', 306], ['H', 345, '0.635', 355], ['L', 393, '0.615', 400], ['C', 437, '0.630', 446]].forEach(d => {
  txt(d[1], 63, d[0], { size: 12.5 });
  txt(d[3], 63, d[2], { size: 12.5, fill: '#22ab94' });
});
txt(482, 63, '+0.025 (+4.13%)', { size: 12.3, fill: '#22ab94' });
box(65.5, 60, 53, 47, 5, '#fff', '#f7525f');
box(160.5, 60, 53, 47, 5, '#fff', '#2962ff');
txt(91, 88, '0.630', { size: 12, fill: '#f7525f', anchor: 'middle', weight: 700 });
txt(91, 103, 'SELL', { size: 11.5, fill: '#f7525f', anchor: 'middle' });
txt(139, 95, '0.005', { size: 11, anchor: 'middle' });
txt(187, 88, '0.635', { size: 12, fill: '#2962ff', anchor: 'middle', weight: 700 });
txt(187, 103, 'BUY', { size: 11.5, fill: '#2962ff', anchor: 'middle' });

// pane buttons
box(66, 116, 45, 19, 3, '#fff', SEP);
chevron(76, 125);
txt(87, 130, '12', { size: 13 });
[[596], [690], [791]].forEach(d => {
  box(66, d[0] - 10, 28, 20, 3, '#fff', SEP);
  chevron(80, d[0]);
});
[126, 597, 690, 791].forEach(cy => {
  ring(129 - (cy === 126 ? 0 : 10), cy, 8.5, { fill: '#ece6fb', stroke: 'none' });
  const cx = 129 - (cy === 126 ? 0 : 10);
  icon(`M${cx - 4.5},${cy - 1}a4.7,4.7 0 0 1 8,-2.5l1,1.5m0,-4v4h-3.5 M${cx + 4.5},${cy + 1}a4.7,4.7 0 0 1 -8,2.5l-1,-1.5m0,4v-4h3.5`, { stroke: '#6e3ff3', width: 1.5 });
});

// wave toolbar
svg.append('rect').attr('x', 540).attr('y', 102).attr('width', 100).attr('height', 34).attr('rx', 5).attr('fill', '#fff')
  .style('filter', 'drop-shadow(0 1px 3px rgba(0,0,0,.18))');
for (let r = 0; r < 3; r++) for (let c = 0; c < 2; c++) ring(550 + c * 4.5, 113 + r * 5, .9, { fill: '#c5c7cd', stroke: 'none' });
[572, 610].forEach((ox, n) => {
  icon(`M${ox},127l7,-7l7,7l7,-7l6,-4`, { stroke: '#333' });
  [[0, 127], [7, 120], [14, 127], [21, 120]].forEach(p => ring(ox + p[0], p[1], 2, { fill: '#fff', stroke: '#333' }));
  txt(ox + 8, 114, n ? 'A' : '1', { size: 8.5, weight: 700, anchor: 'middle' });
  txt(ox + 22, 114, n ? 'C' : '5', { size: 8.5, weight: 700, anchor: 'middle' });
});

// currency buttons on the scale
[46, 583, 677].forEach(py => {
  box(964.5, py, 62, 26, 4, '#fff', '#eceef2');
  txt(968, py + 17, 'MYR', { size: 12 });
  chevron(1018, py + 14);
});

// top bar
ring(26, 19, 13, { fill: '#111', stroke: 'none' });
icon('M21,25v-11l5,6l5,-6v11', { stroke: '#22c52f', width: 2 });
icon('M19,13h-2v12h2 M33,13h2v12h-2', { stroke: '#e53935', width: 1.5 });
ring(39.5, 9, 10, { fill: '#f23645', stroke: 'none' });
txt(39.5, 13, '11', { size: 11, fill: '#fff', anchor: 'middle' });
box(56, 5, 128, 28, 14, GAP);
txt(68, 24, 'CHEEDING', { size: 14, weight: 700 });
ring(170, 19, 11, { fill: '#fff', stroke: 'none' });
icon('M164,16l2.5,-3h7l2.5,3l-6,7z M164,16h12', { width: 1.2 });
ring(206, 19, 9, { width: 1.1 });
icon('M201,19h10 M206,14v10', { width: 1 });
[['1m', 251], ['3m', 283], ['5m', 315], ['15m', 351], ['30m', 391], ['1h', 425], ['4h', 453], ['W', 501]].forEach(d => {
  txt(d[1], 24, d[0], { size: 13.5, anchor: 'middle' });
});
box(470, 2, 18, 34, 5, GAP);
txt(478.5, 24, 'D', { size: 13.5, anchor: 'middle' });
chevron(526, 19);
[231, 543, 590, 699, 784].forEach(sx => svg.append('line').attr('x1', sx).attr('x2', sx).attr('y1', 8).attr('y2', 30).attr('stroke', SEP));
icon('M563.500,10v18 M560,14h7v10h-7z M570.500,13v14 M568,16h5v7h-5z', { width: 1.1 });
icon('M606,28v-6h6v6 M612,28v-10h6v10 M618,28v-14h6v14 M606,28h18 M606,18l8,-7l3,4l7,-6', { width: 1.1 });
chevron(645, 19);
[[668, 12], [680, 12], [668, 23], [680, 23]].forEach(d => box(d[0], d[1], 8, 7, 2, 'none', INK));
ring(720, 20, 9, { width: 1.1 });
icon('M720,14v6h-4 M711,12l3,-3 M729,12l-3,-3 M724,28h9 M728.500,24v9', { width: 1.1 });
icon('M755,19l6,-6v12z M761,19l6,-6v12z', { width: 1.1 });
icon('M802,17l4,-4 M802,17l4,4 M802,17h9a5,5 0 0 1 5,5v2', { stroke: '#a0a3ab' });
icon('M849,17l-4,-4 M849,17l-4,4 M849,17h-9a5,5 0 0 0 -5,5v2', { stroke: '#a0a3ab' });
box(875, 11, 18, 17, 3, 'none', INK);
svg.append('g').attr('clip-path', 'url(#inra)').append('text').attr('x', 908).attr('y', 24).attr('font-size', 13).attr('fill', INK).text('INtra');
box(939.5, 6, 58, 26, 13, '#fff', '#eceef2');
txt(968.500, 24, 'Trade', { size: 13.5, anchor: 'middle' });
box(1006, 5, 70, 28, 14, '#2a2a2a');
txt(1041, 24, 'Publish', { size: 13.5, fill: '#fff', anchor: 'middle' });

// tooltip
icon('M20,43l6,-7l6,7z', { fill: '#2a2a2a', stroke: 'none' });
box(10, 43, 211, 41, 3, '#2a2a2a');
txt(18, 59, 'Logged in as MahersahamOfficial', { size: 12.1, fill: '#ddd' });
txt(18, 77, 'Active layout: INtraswing 1D', { size: 12.1, fill: '#ddd' });

// left tools
const W = 1.1;
icon('M20,109L33,96', { width: W }); ring(18, 111, 2.5, { width: W }); ring(35, 94, 2.5, { width: W });
icon('M15,134h22 M15,144h19 M18,151h19', { width: W }); ring(36, 144, 2, { width: W }); ring(16, 151, 2, { width: W });
icon('M21,171l-3,18 M21,171l14,18 M32,171l-14,18 M32,171l3,18', { width: W });
[[21, 170], [32, 170], [18, 191], [35, 191], [26, 180]].forEach(d => ring(d[0], d[1], 2.2, { fill: '#fff', width: W }));
icon('M19,210h18 M19,224h18 M19,229h18', { width: W }); ring(17, 210, 2, { width: W }); ring(17, 224, 2, { width: W }); ring(17, 229, 2, { width: W });
txt(27, 221, 'L', { size: 8, anchor: 'middle' });
icon('M16,267c2,-6 6,-10 12,-10c2,3 0,8 -4,10z M31,256c2,-3 5,-3 7,-5', { width: W });
icon('M19,288h15 M26.500,288v15 M23,303h7', { width: W });
ring(26, 333, 10.5, { width: W });
icon('M21,336c2,3 8,3 10,0', { width: W }); ring(22.500, 330, .6); ring(29.500, 330, .6);
[358, 447, 651].forEach(sy => svg.append('line').attr('x1', 9).attr('x2', 44).attr('y1', sy).attr('y2', sy).attr('stroke', GAP));
icon('M17,392l22,-14l5,5l-22,14z M25,387l2,3 M29,385l2,3 M33,382l2,3', { width: W, stroke: '#333' });
ring(25, 421, 8, { width: W }); icon('M21,421h8 M25,417v8 M31,427l5,5', { width: W });
icon('M17,483v-10a9,9 0 0 1 18,0v10h-6v-10a3,3 0 0 0 -6,0v10z M17,479h6 M29,479h6', { width: W });
icon('M16,517l14,-13l4,4l-14,13l-5,1z', { width: W });
box(31, 516, 8, 7, 1, 'none', INK); icon('M33,516v-2a2,2 0 0 1 4,0', { width: W });
box(18, 549, 15, 11, 1, 'none', INK); icon('M21,549v-4a4,4 0 0 1 8,0', { width: W }); ring(25.500, 554, 1, { fill: INK });
icon('M16,587c5,-8 15,-8 20,0c-5,8 -15,8 -20,0z', { width: W }); ring(26, 587, 3.5, { width: W });
icon('M22,626l6,-6a3.500,3.500 0 0 1 6,5l-9,9a4,4 0 0 1 -6,-5l8,-8 M24,630l5,-5', { width: W, stroke: '#444' });
icon('M17,667h18 M19,667l2,16h10l2,-16 M22,667l1,-3h6l1,3', { width: W });

// right tools
icon('M1049,56h18v22l-9,-4l-9,4z M1053,62h10 M1053,66h10 M1053,70h10', { width: W });
ring(1058, 112, 10, { width: W }); icon('M1058,106v6h-4 M1047,103l3,-3 M1069,103l-3,-3', { width: W });
icon('M1058,148l11,7l-11,7l-11,-7z M1047,160l11,7l11,-7', { width: W });
icon('M1047,194h23v18h-16l-6,5v-5h-1z', { width: W });
ring(1068, 192, 7.5, { fill: '#f23645', stroke: 'none' });
txt(1068, 196, '1', { size: 10, fill: '#fff', anchor: 'middle' });
ring(1058, 773, 13, { width: W }); ring(1058, 773, 8.5, { width: W }); ring(1058, 773, 2.5, { fill: INK }); icon('M1058,773l8,-9', { width: W });
icon('M1058,806l8,8l-8,6l-8,-6z M1050,818l-5,9h26l-5,-9', { width: W });
box(1047, 851, 23, 20, 3, 'none', INK); icon('M1047,856h23', { width: W }); box(1052, 848, 3, 6, 1, '#fff', INK); box(1062, 848, 3, 6, 1, '#fff', INK);
ring(1050, 916, 2, { width: W }); icon('M1048,908a9,9 0 0 1 10,10 M1048,903a14,14 0 0 1 15,15 M1053,899a20,20 0 0 1 15,19', { width: W });
box(1047, 888, 28, 14, 7, '#f23645'); txt(1061, 899, '99+', { size: 11, fill: '#fff', anchor: 'middle' });
icon('M1048,960v-10a10,10 0 0 1 20,0v10 M1046,960h24v4h-24z M1054,964a4,4 0 0 0 8,0', { width: W });
box(1055, 934, 21, 16, 8, '#f23645'); txt(1065.500, 946, '57', { size: 11, fill: '#fff', anchor: 'middle' });
ring(1058, 998, 17, { fill: '#2a2a2a', stroke: 'none' });
for (let r = 0; r < 3; r++) for (let c = 0; c < 3; c++) box(1049.500 + c * 7, 989.500 + r * 7, 4, 4, 1, '#fff');
svg.append('line').attr('x1', 1041).attr('x2', 1075).attr('y1', 1027).attr('y2', 1027).attr('stroke', GAP);
ring(1058, 1056, 14, { width: W });
txt(1058, 1061, '?', { size: 16, anchor: 'middle' });

// bottom bar
box(9, 1024, 34, 36, 5, '#2a2a2a');
icon('M26,1032l2.500,6h6l-5,4l2,6l-5.500,-3.500l-5.500,3.500l2,-6l-5,-4h6z', { stroke: '#fff' });
[['1D', 79], ['5D', 109], ['1M', 140], ['3M', 172], ['6M', 204], ['YTD', 239], ['All', 273]].forEach(d => txt(d[1], 1066, d[0], { size: 13.5, anchor: 'middle' }));
svg.append('line').attr('x1', 292).attr('x2', 292).attr('y1', 1048).attr('y2', 1074).attr('stroke', SEP);
icon('M308,1054h15v16h-11 M308,1054v6 M313,1051v5 M319,1051v5 M306,1065h6m-2,-2l2,2l-2,2', { width: W });
txt(974, 1066, '16:52:59 UTC+8', { size: 13.5, anchor: 'end' });
svg.append('line').attr('x1', 985).attr('x2', 985).attr('y1', 1048).attr('y2', 1074).attr('stroke', SEP);
txt(1008, 1066, 'ADJ', { size: 13.5, anchor: 'middle' });
icon('M990,1027l3,-6h6l3,6l-3,6h-6z', { width: W }); ring(996, 1027, 2, { width: W });
</script>
</body>
</html>
